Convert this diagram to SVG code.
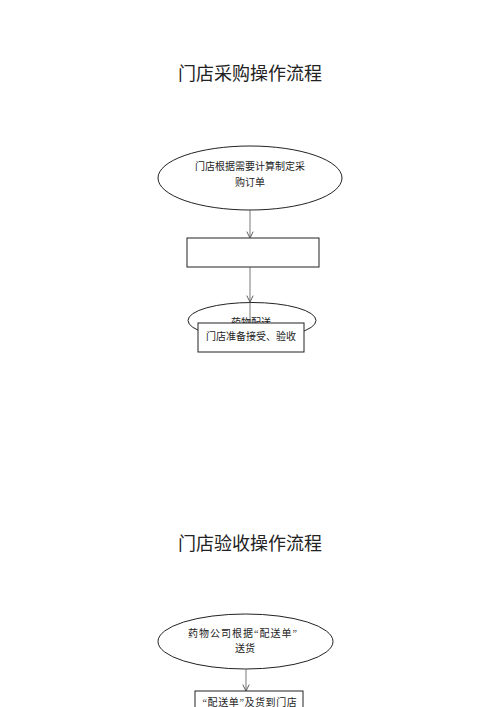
<svg xmlns="http://www.w3.org/2000/svg" width="500" height="707" viewBox="0 0 500 707">
<defs>
<style>
text{font-family:"Liberation Serif","Noto Sans CJK SC",serif;fill:#222;text-anchor:middle}
.title{font-size:18px}
.lbl{font-size:10px}
.shape{fill:#fff;stroke:#222;stroke-width:1}
.conn{fill:none;stroke:#555;stroke-width:0.8}
</style>
<marker id="arr" viewBox="0 0 10 10" refX="9" refY="5" markerWidth="8" markerHeight="8" markerUnits="userSpaceOnUse" orient="auto">
<path d="M1 1 L9 5 L1 9" fill="none" stroke="#555" stroke-width="1.2"/>
</marker>
</defs>
<rect width="500" height="707" fill="#fff"/>
<text class="title" x="250" y="80">门店采购操作流程</text>
<text class="title" x="250" y="550">门店验收操作流程</text>
<g id="n1">
<ellipse class="shape" cx="250" cy="178" rx="92" ry="32"/>
<text class="lbl" x="250" y="170">门店根据需要计算制定采</text>
<text class="lbl" x="250" y="186">购订单</text>
</g>
<g id="n2">
<rect class="shape" x="187" y="238" width="132" height="29"/>
</g>
<g id="n3">
<ellipse class="shape" cx="252" cy="320.5" rx="64" ry="18"/>
<text class="lbl" x="251" y="326">药物配送</text>
</g>
<g id="n5">
<ellipse class="shape" cx="245.5" cy="641.5" rx="87.5" ry="27.5"/>
<text class="lbl" x="243" y="637" letter-spacing="1">药物公司根据“配送单”</text>
<text class="lbl" x="245" y="652">送货</text>
</g>
<g id="connectors">
<path class="conn" d="M250 210 L250 238" marker-end="url(#arr)"/>
<path class="conn" d="M250 267 L250 302 L250 323" marker-mid="url(#arr)"/>
<path class="conn" d="M246 669 L246 691" marker-end="url(#arr)"/>
</g>
<g id="n4">
<rect class="shape" x="198" y="323" width="106" height="29"/>
<text class="lbl" x="251" y="340">门店准备接受、验收</text>
</g>
<g id="n6">
<rect class="shape" x="195" y="691" width="108" height="30"/>
<text class="lbl" x="250" y="706" letter-spacing="0.6">“配送单”及货到门店</text>
</g>
</svg>
